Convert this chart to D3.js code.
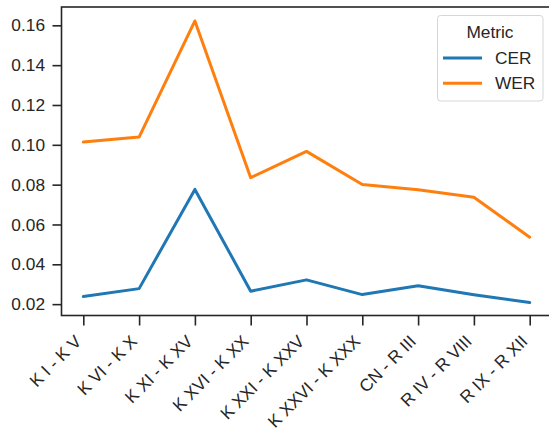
<!DOCTYPE html>
<html><head><meta charset="utf-8">
<script src="https://cdn.jsdelivr.net/npm/d3@7/dist/d3.min.js"></script>
<style>body{margin:0;background:#fff}svg{display:block}text{font-family:"Liberation Sans",Arial,sans-serif;fill:#262626}</style>
</head><body><svg id="c" width="549" height="430"></svg>
<script>
const categories = ["K I - K V","K VI - K X","K XI - K XV","K XVI - K XX","K XXI - K XXV","K XXVI - K XXX","CN - R III","R IV - R VIII","R IX - R XII"];
const cer = [0.0238,0.0278,0.0776,0.0265,0.0322,0.0248,0.0292,0.0247,0.0208];
const wer = [0.1014,0.1039,0.1622,0.0835,0.0967,0.0801,0.0774,0.0737,0.0536];
const yTicks = [0.02,0.04,0.06,0.08,0.10,0.12,0.14,0.16];
const seriesNames = ["CER","WER"];
const colors = ["#1f77b4","#ff7f0e"];

const svg = d3.select("#c");
const L=61.5, R=552, T=7, B=315.5;
const x = d3.scalePoint().domain(categories).range([83.3,529.7]);
const y = d3.scaleLinear().domain([0.0143,0.1692]).range([B,T]);
const fs = 17.3;

const ink="#262626";
svg.append("rect").attr("x",L).attr("y",T).attr("width",R-L).attr("height",B-T)
  .attr("fill","none").attr("stroke",ink).attr("stroke-width",1.6);

// y axis
const ya = svg.append("g").attr("transform",`translate(${L},0)`)
  .call(d3.axisLeft(y).tickValues(yTicks).tickFormat(d3.format(".2f")).tickSize(9).tickPadding(7.5));
ya.select(".domain").remove();
ya.selectAll("line").attr("stroke",ink).attr("stroke-width",1.6);
ya.selectAll("text").attr("font-size",fs).style("font-family",'"Liberation Sans",Arial,sans-serif').attr("fill",ink);

// x axis
const xa = svg.append("g").attr("transform",`translate(0,${B})`)
  .call(d3.axisBottom(x).tickSize(10).tickFormat(""));
xa.select(".domain").remove();
xa.selectAll("line").attr("stroke",ink).attr("stroke-width",1.6);
svg.append("g").selectAll("text").data(categories).join("text")
  .attr("transform",d=>`translate(${x(d)-1},${B+27})rotate(-45)`)
  .attr("text-anchor","end").attr("font-size",fs).text(d=>d);

// lines
const series=[cer,wer];
const line = d3.line().x((d,i)=>x(categories[i])).y(d=>y(d));
series.forEach((s,k)=>{
  svg.append("path").datum(s).attr("d",line).attr("fill","none")
    .attr("stroke",colors[k]).attr("stroke-width",3).attr("stroke-linecap","round").attr("stroke-linejoin","round");
});

// legend
const lg = svg.append("g");
lg.append("rect").attr("x",437.5).attr("y",15.5).attr("width",105.5).attr("height",85.5).attr("rx",3)
  .attr("fill","#fff").attr("fill-opacity",0.8).attr("stroke","#d6d6d6").attr("stroke-width",1);
lg.append("text").attr("x",490).attr("y",37.5).attr("text-anchor","middle").attr("font-size",fs).text("Metric");
seriesNames.forEach((n,k)=>{
  const yy = 58+k*25.3;
  lg.append("line").attr("x1",443).attr("x2",482).attr("y1",yy).attr("y2",yy)
    .attr("stroke",colors[k]).attr("stroke-width",3);
  lg.append("text").attr("x",495).attr("y",yy+6).attr("font-size",fs).text(n);
});
</script></body></html>
